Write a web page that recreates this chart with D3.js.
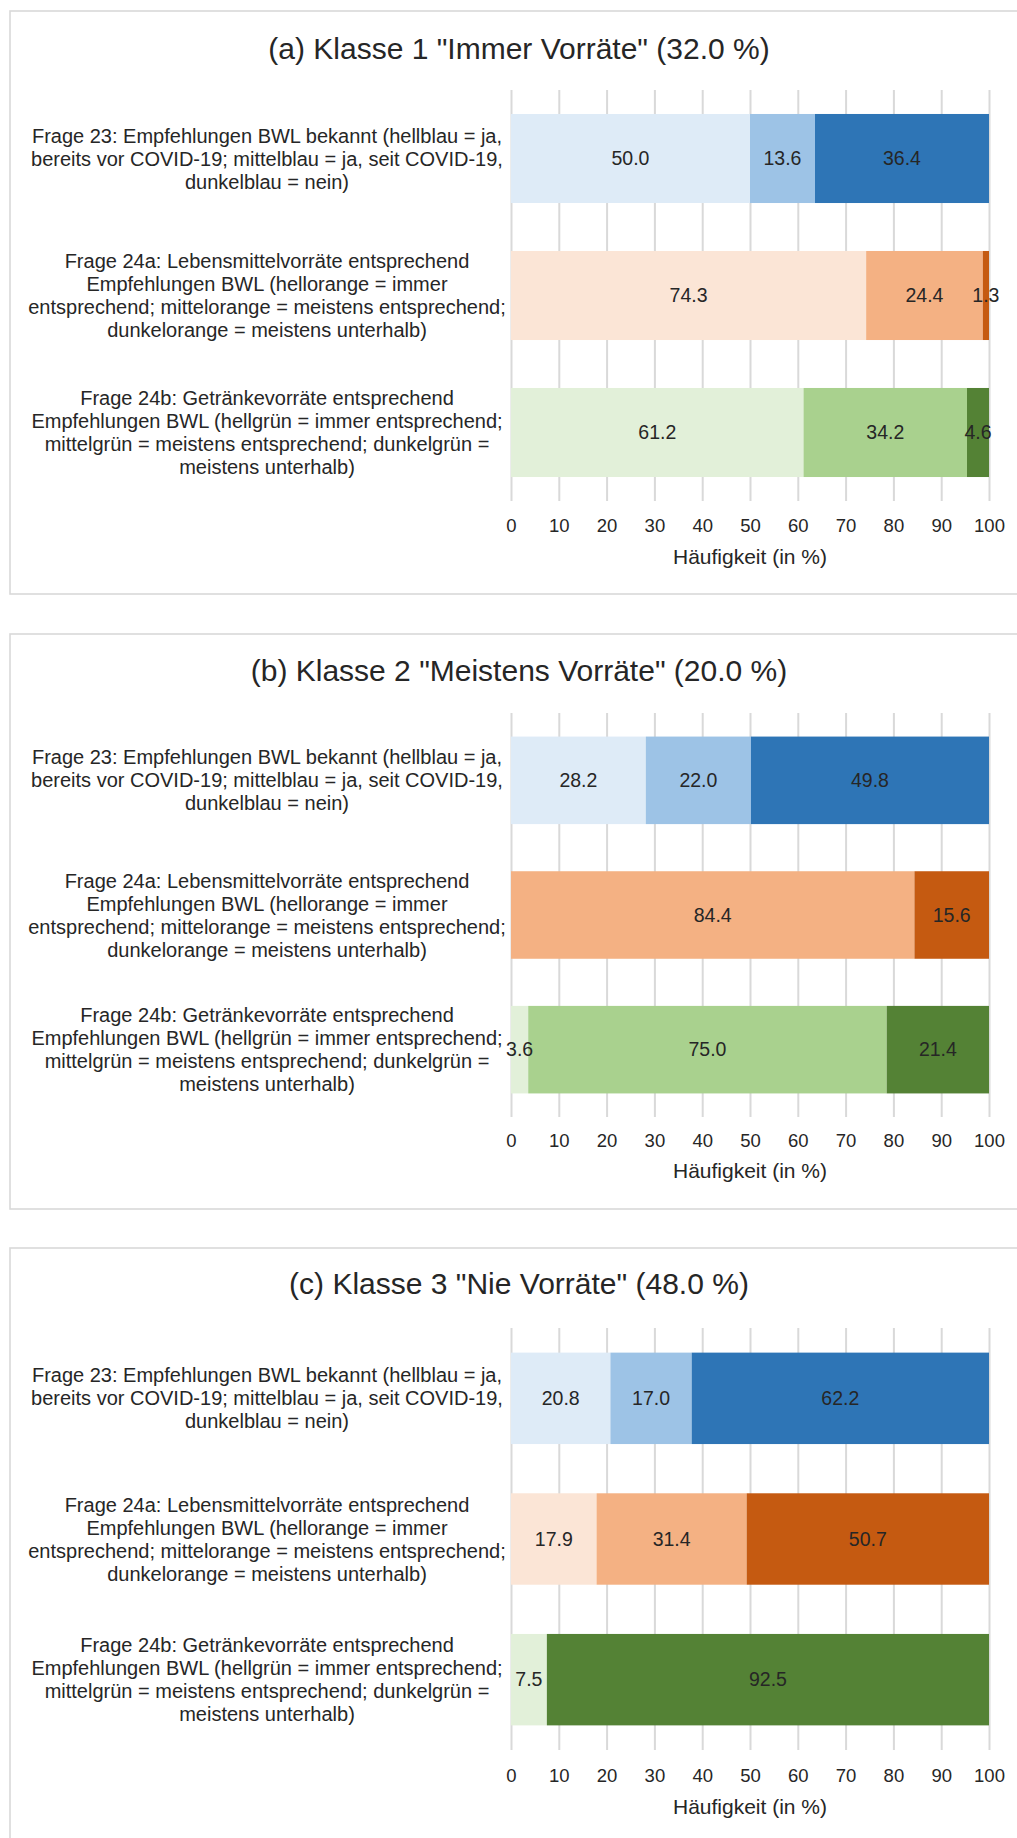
<!DOCTYPE html>
<html><head><meta charset="utf-8">
<script src="https://cdn.jsdelivr.net/npm/d3@7"></script>
<style>
body{margin:0;background:#fff}
svg{display:block}
text{font-family:"Liberation Sans",Arial,sans-serif}
</style>
</head><body>
<svg id="c" width="1017" height="1838"></svg>
<script>
// ---------------- DATA ----------------
const panelTitles = [
  '(a) Klasse 1 "Immer Vorräte" (32.0 %)',
  '(b) Klasse 2 "Meistens Vorräte" (20.0 %)',
  '(c) Klasse 3 "Nie Vorräte" (48.0 %)'
];
const questions = ["Frage 23", "Frage 24a", "Frage 24b"];
const questionLabels = [
  ["Frage 23: Empfehlungen BWL bekannt (hellblau = ja,",
   "bereits vor COVID-19; mittelblau = ja, seit COVID-19,",
   "dunkelblau = nein)"],
  ["Frage 24a: Lebensmittelvorräte entsprechend",
   "Empfehlungen BWL (hellorange = immer",
   "entsprechend; mittelorange = meistens entsprechend;",
   "dunkelorange = meistens unterhalb)"],
  ["Frage 24b: Getränkevorräte entsprechend",
   "Empfehlungen BWL (hellgrün = immer entsprechend;",
   "mittelgrün = meistens entsprechend; dunkelgrün =",
   "meistens unterhalb)"]
];
const segmentNames = ["hell", "mittel", "dunkel"];
// values per question: [hell, mittel, dunkel]
const valuesKlasse1 = [[50.0, 13.6, 36.4], [74.3, 24.4, 1.3], [61.2, 34.2, 4.6]];
const valuesKlasse2 = [[28.2, 22.0, 49.8], [0, 84.4, 15.6], [3.6, 75.0, 21.4]];
const valuesKlasse3 = [[20.8, 17.0, 62.2], [17.9, 31.4, 50.7], [7.5, 0, 92.5]];
const xTicks = [0, 10, 20, 30, 40, 50, 60, 70, 80, 90, 100];
const axisTitle = "Häufigkeit (in %)";

// ---------------- STYLE / LAYOUT ----------------
const palette = [
  ["#DEEBF7", "#9DC3E6", "#2E75B6"],
  ["#FBE5D6", "#F4B183", "#C55A11"],
  ["#E2F0D9", "#A9D18E", "#548235"]
];
const layout = [
  {top: 11,   bottom: 594,  titleY: 48,   gridTop: 90,   gridBottom: 501,  tickY: 525,  axisY: 557},
  {top: 634,  bottom: 1209, titleY: 670,  gridTop: 713,  gridBottom: 1117, tickY: 1140, axisY: 1171},
  {top: 1248, bottom: 1870, titleY: 1283, gridTop: 1328, gridBottom: 1750, tickY: 1775, axisY: 1807}
];
const allValues = [valuesKlasse1, valuesKlasse2, valuesKlasse3];
const textColor = "#262626";
const gridColor = "#D9D9D9";

const svg = d3.select("#c");
const x = d3.scaleLinear().domain([0, 100]).range([511, 989]);

allValues.forEach((vals, pi) => {
  const L = layout[pi];
  const g = svg.append("g");

  g.append("rect")
    .attr("x", 10).attr("y", L.top)
    .attr("width", 1030).attr("height", L.bottom - L.top)
    .attr("fill", "#fff").attr("stroke", gridColor).attr("stroke-width", 1.6);

  g.append("text")
    .attr("x", 519).attr("y", L.titleY).attr("dy", "0.35em")
    .attr("text-anchor", "middle")
    .attr("font-size", 30).attr("fill", textColor)
    .text(panelTitles[pi]);

  const y = d3.scaleBand().domain(questions)
    .range([L.gridTop, L.gridBottom])
    .paddingInner(0.35).paddingOuter(0.175);

  const fs = 18.5;
  const axis = d3.axisBottom(x).tickValues(xTicks)
    .tickSize(-(L.gridBottom - L.gridTop))
    .tickPadding(L.tickY - L.gridBottom - fs * 0.35);
  const ag = g.append("g").attr("transform", `translate(0,${L.gridBottom})`).call(axis);
  ag.select(".domain").remove();
  ag.selectAll(".tick line").attr("stroke", gridColor).attr("stroke-width", 2);
  ag.selectAll(".tick text").attr("font-size", fs).attr("fill", textColor)
    .attr("font-family", '"Liberation Sans",Arial,sans-serif');

  g.append("text")
    .attr("x", (x(0) + x(100)) / 2).attr("y", L.axisY).attr("dy", "0.35em")
    .attr("text-anchor", "middle").attr("font-size", 21).attr("fill", textColor)
    .text(axisTitle);

  questions.forEach((q, qi) => {
    const row = vals[qi];
    const stacked = [];
    let acc = 0;
    row.forEach((v, si) => { stacked.push({v, si, x0: acc, x1: acc + v}); acc += v; });
    const cy = y(q) + y.bandwidth() / 2;

    g.selectAll(null).data(stacked.filter(d => d.v > 0)).enter().append("rect")
      .attr("x", d => x(d.x0)).attr("y", y(q))
      .attr("width", d => x(d.x1) - x(d.x0)).attr("height", y.bandwidth())
      .attr("fill", d => palette[qi][d.si]);

    g.selectAll(null).data(stacked.filter(d => d.v > 0)).enter().append("text")
      .attr("x", d => (x(d.x0) + x(d.x1)) / 2).attr("y", cy).attr("dy", "0.35em")
      .attr("text-anchor", "middle").attr("font-size", 19.5).attr("fill", textColor)
      .text(d => d3.format(".1f")(d.v));

    const lines = questionLabels[qi];
    const lh = 23;
    const t = g.append("text").attr("text-anchor", "middle")
      .attr("font-size", 20).attr("fill", textColor);
    lines.forEach((ln, li) => {
      t.append("tspan").attr("x", 267)
        .attr("y", cy + (li - (lines.length - 1) / 2) * lh)
        .attr("dy", "0.35em").text(ln);
    });
  });
});
</script>
</body></html>
